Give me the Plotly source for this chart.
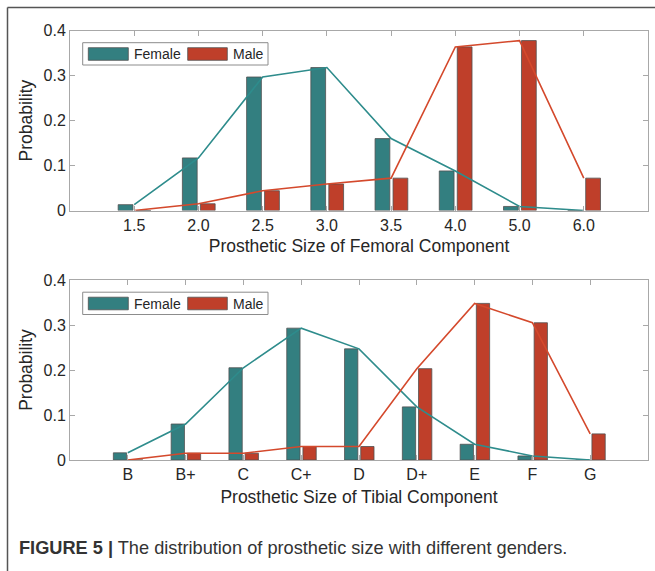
import plotly.graph_objects as go

# ---- data ----
fem_labels = ["1.5", "2.0", "2.5", "3.0", "3.5", "4.0", "5.0", "6.0"]
fem_female = [0.013, 0.117, 0.297, 0.318, 0.160, 0.088, 0.009, 0.0]
fem_male = [0.0, 0.015, 0.044, 0.059, 0.072, 0.364, 0.378, 0.072]

tib_labels = ["B", "B+", "C", "C+", "D", "D+", "E", "F", "G"]
tib_female = [0.016, 0.080, 0.205, 0.293, 0.247, 0.118, 0.035, 0.009, 0.0]
tib_male = [0.0, 0.015, 0.015, 0.030, 0.030, 0.203, 0.348, 0.305, 0.058]

y_ticks = [0, 0.1, 0.2, 0.3, 0.4]

W, H = 655, 571
TEAL = "#337F80"
RED = "#BF3F2A"
TEAL_LINE = "#2E8C8C"
RED_LINE = "#D4492C"
EDGE = "#505050"
AXC = "#A8A8A8"
FONT = "Liberation Sans, Arial, Helvetica, sans-serif"
TXT = "#262626"

fig = go.Figure()

panels = [
    (fem_labels, fem_female, fem_male, "x", "y", "Prosthetic Size of Femoral Component"),
    (tib_labels, tib_female, tib_male, "x2", "y2", "Prosthetic Size of Tibial Component"),
]

for labels, fvals, mvals, xa, ya, _ in panels:
    pos = list(range(1, len(labels) + 1))
    fig.add_trace(go.Bar(x=pos, y=fvals, offset=-0.25, width=0.23, xaxis=xa, yaxis=ya,
                         marker=dict(color=TEAL, line=dict(color=EDGE, width=0.8)),
                         name="Female", showlegend=False))
    fig.add_trace(go.Bar(x=pos, y=mvals, offset=0.03, width=0.23, xaxis=xa, yaxis=ya,
                         marker=dict(color=RED, line=dict(color=EDGE, width=0.8)),
                         name="Male", showlegend=False))
    fig.add_trace(go.Scatter(x=pos, y=fvals, mode="lines", xaxis=xa, yaxis=ya,
                             line=dict(color=TEAL_LINE, width=1.6), showlegend=False))
    fig.add_trace(go.Scatter(x=pos, y=mvals, mode="lines", xaxis=xa, yaxis=ya,
                             line=dict(color=RED_LINE, width=1.6), showlegend=False))

def px2paper_x(px):
    return px / W

def px2paper_y(py):
    return 1 - py / H

top_dom = [px2paper_y(210.5), px2paper_y(30.7)]
bot_dom = [px2paper_y(460), px2paper_y(280)]
x_dom = [px2paper_x(70), px2paper_x(648)]

axis_common = dict(showline=True, linecolor=AXC, linewidth=1, mirror="ticks",
                   ticks="inside", ticklen=5, tickcolor=AXC, tickwidth=1,
                   showgrid=False, zeroline=False, automargin=False,
                   tickfont=dict(family=FONT, size=16, color=TXT))

title_font = dict(family=FONT, size=17.5, color=TXT)

fig.update_layout(
    width=W, height=H, margin=dict(l=0, r=0, t=0, b=0, autoexpand=False),
    paper_bgcolor="white", plot_bgcolor="white",
    barmode="overlay", showlegend=False,
    font=dict(family=FONT, color=TXT),
    xaxis=dict(domain=x_dom, anchor="y", range=[0, len(fem_labels) + 1],
               tickvals=list(range(1, len(fem_labels) + 1)), ticktext=fem_labels,
               title=dict(text=panels[0][5], font=title_font, standoff=7),
               **axis_common),
    yaxis=dict(domain=top_dom, anchor="x", range=[0, 0.4], tickvals=y_ticks,
               ticktext=[f"{v:g}" for v in y_ticks],
               title=dict(text="Probability", font=title_font, standoff=6),
               **axis_common),
    xaxis2=dict(domain=x_dom, anchor="y2", range=[0, len(tib_labels) + 1],
                tickvals=list(range(1, len(tib_labels) + 1)), ticktext=tib_labels,
                title=dict(text=panels[1][5], font=title_font, standoff=8),
                **axis_common),
    yaxis2=dict(domain=bot_dom, anchor="x2", range=[0, 0.4], tickvals=y_ticks,
                ticktext=[f"{v:g}" for v in y_ticks],
                title=dict(text="Probability", font=title_font, standoff=6),
                **axis_common),
)

shapes = []
annotations = []

# page frame (top and left rules)
shapes.append(dict(type="line", xref="paper", yref="paper",
                   x0=px2paper_x(7.5), x1=1, y0=px2paper_y(7.5), y1=px2paper_y(7.5),
                   line=dict(color="#555555", width=1.5)))
shapes.append(dict(type="line", xref="paper", yref="paper",
                   x0=px2paper_x(7.5), x1=px2paper_x(7.5), y0=0, y1=px2paper_y(7.5),
                   line=dict(color="#555555", width=1.5)))

# manual legends (MATLAB style wide patches)
for dy in (0, 249.5):
    shapes.append(dict(type="rect", xref="paper", yref="paper",
                       x0=px2paper_x(82.7), x1=px2paper_x(268),
                       y0=px2paper_y(65 + dy), y1=px2paper_y(42.7 + dy),
                       line=dict(color="#8C8C8C", width=1), fillcolor="white", layer="above"))
    shapes.append(dict(type="rect", xref="paper", yref="paper",
                       x0=px2paper_x(88.3), x1=px2paper_x(128.3),
                       y0=px2paper_y(60.3 + dy), y1=px2paper_y(47.7 + dy),
                       line=dict(color=EDGE, width=0.8), fillcolor=TEAL, layer="above"))
    shapes.append(dict(type="rect", xref="paper", yref="paper",
                       x0=px2paper_x(187.7), x1=px2paper_x(227.3),
                       y0=px2paper_y(60.3 + dy), y1=px2paper_y(47.7 + dy),
                       line=dict(color=EDGE, width=0.8), fillcolor=RED, layer="above"))
    annotations.append(dict(text="Female", xref="paper", yref="paper",
                            x=px2paper_x(131.5), y=px2paper_y(54 + dy), xanchor="left", yanchor="middle",
                            showarrow=False, font=dict(family=FONT, size=14, color=TXT)))
    annotations.append(dict(text="Male", xref="paper", yref="paper",
                            x=px2paper_x(230.5), y=px2paper_y(54 + dy), xanchor="left", yanchor="middle",
                            showarrow=False, font=dict(family=FONT, size=14, color=TXT)))

# caption
annotations.append(dict(text="<b>FIGURE 5 |</b> The distribution of prosthetic size with different genders.",
                        xref="paper", yref="paper", x=px2paper_x(17), y=px2paper_y(548),
                        xanchor="left", yanchor="middle", showarrow=False,
                        font=dict(family=FONT, size=18.2, color="#333333")))

fig.update_layout(shapes=shapes, annotations=annotations)

fig.write_html("out.html",
               config={"displayModeBar": False},
               post_script="document.body.style.margin='0';document.body.style.overflow='hidden';")
